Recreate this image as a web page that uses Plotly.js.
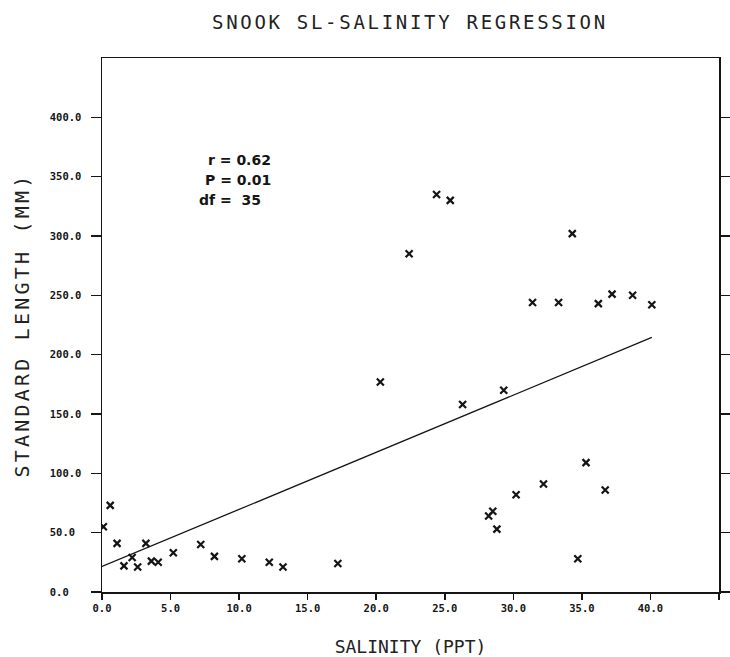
<!DOCTYPE html>
<html>
<head>
<meta charset="utf-8">
<script src="https://cdn.plot.ly/plotly-3.0.1.min.js"></script>
<style>
  html, body { margin: 0; padding: 0; background: #fff; }
  #chart { width: 730px; height: 657px; }
  /* plotter-style spaced lettering for the titles */
  .gtitle { letter-spacing: 2.7px; }
  .ytitle { letter-spacing: 3.2px; }
</style>
</head>
<body>
<div id="chart"></div>
<script>
// Snook standard length vs. salinity, one point per fish
const salinity = [0.1, 0.6, 1.1, 1.6, 2.2, 2.6, 3.2, 3.6, 4.1, 5.2, 7.2, 8.2, 10.2, 12.2, 13.2, 17.2,
                  20.3, 22.4, 24.4, 25.4, 26.3, 28.2, 28.5, 28.8, 29.3, 30.2, 31.4, 32.2, 33.3, 34.3,
                  34.7, 35.3, 36.2, 36.7, 37.2, 38.7, 40.1];
const standardLength = [55, 73, 41, 22, 29, 21, 41, 26, 25, 33, 40, 30, 28, 25, 21, 24,
                        177, 285, 335, 330, 158, 64, 68, 53, 170, 82, 244, 91, 244, 302,
                        28, 109, 243, 86, 251, 250, 242];

// fitted regression line (end points of the fit over the sampled range)
const fitSalinity = [0, 40.1];
const fitLength = [21.5, 214.5];

// axis ticks
const xTickVals = [0, 5, 10, 15, 20, 25, 30, 35, 40, 45];
const xTickText = ['0.0', '5.0', '10.0', '15.0', '20.0', '25.0', '30.0', '35.0', '40.0', '45.0'];
const yTickVals = [0, 50, 100, 150, 200, 250, 300, 350, 400];
// fixed-width labels, left aligned in a five-character field
const yTickText = ['0.0\u00a0\u00a0', '50.0\u00a0', '100.0', '150.0', '200.0', '250.0', '300.0', '350.0', '400.0'];

// regression statistics
const statLines = ['r = 0.62', 'P = 0.01', 'df =\u00a0 35'];
const statX = [10.0, 9.9, 9.3];
const statY = [364, 347, 330];

const ink = '#151515';
const plotterFont = 'DejaVu Sans Mono, Liberation Mono, monospace';

const traces = [
  {
    x: salinity, y: standardLength,
    type: 'scatter', mode: 'markers',
    marker: { symbol: 'x-thin-open', size: 7, color: ink, line: { color: ink, width: 2.2 } },
    hoverinfo: 'x+y', showlegend: false
  },
  {
    x: fitSalinity, y: fitLength,
    type: 'scatter', mode: 'lines',
    line: { color: ink, width: 1.3 },
    hoverinfo: 'skip', showlegend: false
  }
];

const annotations = statLines.map((t, i) => ({
  x: statX[i], y: statY[i], xref: 'x', yref: 'y',
  text: t, showarrow: false, xanchor: 'center', yanchor: 'middle',
  font: { family: 'DejaVu Sans, sans-serif', size: 14, color: ink, weight: 'bold' }
}));

const layout = {
  width: 730, height: 657,
  margin: { l: 102, r: 11, t: 58, b: 65 },
  paper_bgcolor: '#fff', plot_bgcolor: '#fff',
  font: { family: plotterFont, color: ink },
  title: {
    text: 'SNOOK SL-SALINITY REGRESSION',
    xref: 'container', x: 0.5616, xanchor: 'center',
    yref: 'container', y: 0.966, yanchor: 'middle',
    font: { family: plotterFont, size: 19, color: '#222' }
  },
  xaxis: {
    range: [0, 45], autorange: false,
    tickmode: 'array', tickvals: xTickVals, ticktext: xTickText,
    ticks: 'outside', ticklen: 6, tickwidth: 1.5, tickcolor: ink,
    showline: true, linecolor: ink, linewidth: 1.5, mirror: true,
    showgrid: false, zeroline: false,
    tickfont: { family: plotterFont, size: 10.5, color: ink, weight: 'bold' },
    title: { text: 'SALINITY (PPT)', standoff: 29,
             font: { family: plotterFont, size: 18, color: '#222' } }
  },
  yaxis: {
    range: [0, 450], autorange: false,
    tickmode: 'array', tickvals: yTickVals, ticktext: yTickText,
    ticks: 'outside', ticklen: 10, tickwidth: 1.5, tickcolor: ink,
    showline: true, linecolor: ink, linewidth: 1.5, mirror: 'ticks',
    showgrid: false, zeroline: false,
    tickfont: { family: plotterFont, size: 10.5, color: ink, weight: 'bold' },
    ticklabelstandoff: 7,
    title: { text: 'STANDARD LENGTH (MM)', standoff: 15,
             font: { family: plotterFont, size: 20, color: '#222' } }
  },
  annotations: annotations,
  showlegend: false
};

Plotly.newPlot('chart', traces, layout, { displayModeBar: false, staticPlot: true });
</script>
</body>
</html>
